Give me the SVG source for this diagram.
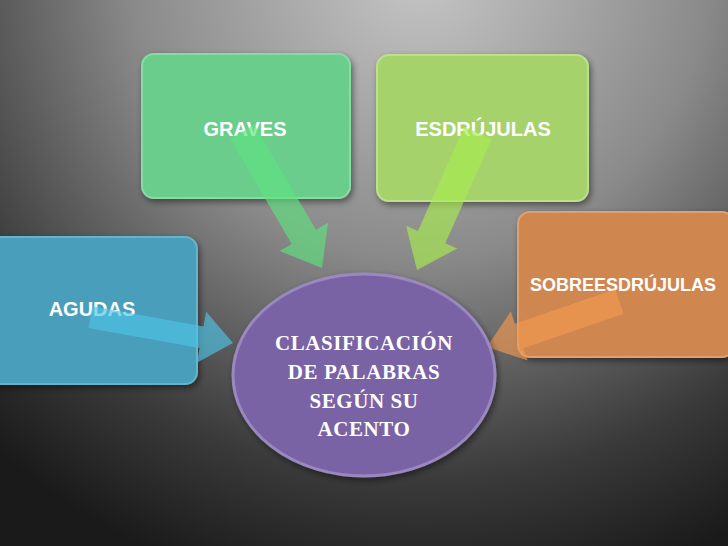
<svg xmlns="http://www.w3.org/2000/svg" width="728" height="546" viewBox="0 0 728 546">
<defs>
<radialGradient id="bg" gradientUnits="userSpaceOnUse" cx="420" cy="-30" r="640">
<stop offset="0" stop-color="#c6c6c6"/>
<stop offset="0.45" stop-color="#8a8a8a"/>
<stop offset="0.8" stop-color="#3a3a3a"/>
<stop offset="1" stop-color="#1a1a1a"/>
</radialGradient>
<filter id="sh" x="-20%" y="-20%" width="140%" height="140%">
<feDropShadow dx="2" dy="3" stdDeviation="3" flood-color="#000" flood-opacity="0.45"/>
</filter>
<style>
.box{stroke-width:2;filter:url(#sh)}
.lbl{font-family:"Liberation Sans",Arial,sans-serif;font-weight:bold;font-size:20px;fill:#ffffff;text-anchor:middle}
.ctr{font-family:"Liberation Serif","DejaVu Serif",serif;font-weight:bold;font-size:21px;fill:#ffffff;text-anchor:middle;letter-spacing:0.6px}
.arr{opacity:0.65}
</style>
</defs>
<rect width="728" height="546" fill="url(#bg)"/>
<g id="graves">
<rect class="box" x="142" y="54" width="208" height="144" rx="12" fill="#6bcd8c" stroke="#86dca2"/>
<text class="lbl" x="245" y="136">GRAVES</text>
</g>
<g id="esdrujulas">
<rect class="box" x="377" y="55" width="211" height="146" rx="12" fill="#a6d26c" stroke="#bde08a"/>
<text class="lbl" x="483" y="136">ESDRÚJULAS</text>
</g>
<g id="sobreesdrujulas">
<rect class="box" x="518" y="212" width="216" height="145" rx="12" fill="#d0874f" stroke="#dfa070"/>
<text class="lbl" x="623" y="291" style="font-size:18px">SOBREESDRÚJULAS</text>
</g>
<g id="agudas">
<rect class="box" x="-20" y="237" width="217" height="147" rx="12" fill="#4a9fbb" stroke="#66b4cc"/>
<text class="lbl" x="92" y="316">AGUDAS</text>
</g>
<g id="connectors">
<g transform="translate(322,268) rotate(59.7)"><polygon class="arr" fill="#5fe27f" points="0,0 -36,-28 -36,-14 -158,-14 -158,14 -36,14 -36,28"/></g>
<g transform="translate(417,270) rotate(114)"><polygon class="arr" fill="#a8ec4e" points="0,0 -36,-28 -36,-15 -150,-15 -150,15 -36,15 -36,28"/></g>
<g transform="translate(233,343) rotate(10.3)"><polygon class="arr" fill="#4fc3e6" points="0,0 -32,-26 -32,-11 -145,-11 -145,11 -32,11 -32,26"/></g>
<g transform="translate(487,347) rotate(161)"><polygon class="arr" fill="#f39a52" points="0,0 -34,-26 -34,-13 -140,-13 -140,13 -34,13 -34,26"/></g>
</g>
<g id="centro">
<ellipse cx="364" cy="375" rx="131" ry="101" fill="#7a63a4" stroke="#9a88c0" stroke-width="3" filter="url(#sh)"/>
<text class="ctr" x="364" y="350">CLASIFICACIÓN</text>
<text class="ctr" x="364" y="379">DE PALABRAS</text>
<text class="ctr" x="364" y="408">SEGÚN SU</text>
<text class="ctr" x="364" y="436">ACENTO</text>
</g>
</svg>
